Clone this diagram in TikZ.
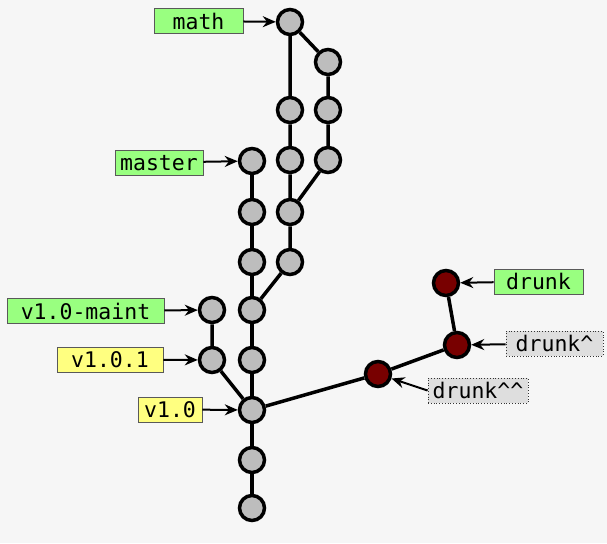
\documentclass[tikz,border=0pt]{standalone}
\usepackage{fontspec}
\setmonofont{DejaVu Sans Mono}
\usetikzlibrary{arrows.meta}
\definecolor{paper}{HTML}{F6F6F6}
\definecolor{stone}{HTML}{BDBDBD}
\definecolor{wine}{HTML}{780000}
\definecolor{leaf}{HTML}{99FF80}
\definecolor{lemon}{HTML}{FFFF80}
\definecolor{mist}{HTML}{DEDEDE}

\begin{document}
\begin{tikzpicture}[
  x=1pt, y=-1pt,
  font=\ttfamily\fontsize{21.5}{24}\selectfont,
  commit/.style={circle, draw=black, line width=3.5pt, fill=stone,
    minimum size=25pt, inner sep=0pt},
  drunkcommit/.style={commit, fill=wine},
  branch/.style={draw=black!65, fill=leaf, line width=0.8pt,
    minimum height=25pt, inner xsep=4pt, inner ysep=0pt, text depth=0pt},
  tag/.style={branch, fill=lemon},
  reflog/.style={branch, fill=mist, dotted, draw=black!80},
  link/.style={line width=3.5pt},
  ptr/.style={-{Stealth[length=13pt,width=11pt]}, line width=2pt}
]
\fill[paper] (0,0) rectangle (607,543);
\useasboundingbox (0,0) rectangle (607,543);

% commits
\node[commit] (m0) at (290,22) {};
\node[commit] (m1) at (290,110) {};
\node[commit] (m2) at (290,160) {};
\node[commit] (m3) at (290,212) {};
\node[commit] (m4) at (290,262) {};
\node[commit] (s0) at (328,62) {};
\node[commit] (s1) at (328,110) {};
\node[commit] (s2) at (328,160) {};
\node[commit] (c0) at (252,161) {};
\node[commit] (c1) at (252,212) {};
\node[commit] (c2) at (252,262) {};
\node[commit] (c3) at (252,310) {};
\node[commit] (c4) at (252,360) {};
\node[commit] (c5) at (252,410) {};
\node[commit] (c6) at (252,460) {};
\node[commit] (c7) at (252,508) {};
\node[commit] (t0) at (212,310) {};
\node[commit] (t1) at (212,360) {};
\node[drunkcommit] (d0) at (378,374) {};
\node[drunkcommit] (d1) at (457,345) {};
\node[drunkcommit] (d2) at (446,283) {};

% history
\draw[link] (m0) -- (m1) -- (m2) -- (m3) -- (m4) -- (c3);
\draw[link] (m0) -- (s0) -- (s1) -- (s2) -- (m3);
\draw[link] (c0) -- (c1) -- (c2) -- (c3) -- (c4) -- (c5) -- (c6) -- (c7);
\draw[link] (t0) -- (t1) -- (c5);
\draw[link] (c5) -- (d0) -- (d1) -- (d2);

% refs
\node[branch, minimum width=89pt] (math) at (198.5,21) {math};
\node[branch, minimum width=88pt] (master) at (159,162.5) {master};
\node[branch, minimum width=157pt] (maint) at (85.5,311) {v1.0-maint};
\node[tag, minimum width=106pt] (v101) at (110,359.5) {v1.0.1};
\node[tag, minimum width=64pt] (v10) at (170,409.5) {v1.0};
\node[branch, minimum width=89pt] (drunk) at (538.5,281.5) {drunk};
\node[reflog, minimum width=97pt] (drunk1) at (554.5,343.5) {drunk\textasciicircum};
\node[reflog, minimum width=100pt] (drunk2) at (478,390.5) {drunk\textasciicircum\textasciicircum};

\draw[ptr] (math) -- (m0);
\draw[ptr] (master) -- (c0);
\draw[ptr] (maint) -- (t0);
\draw[ptr] (v101) -- (t1);
\draw[ptr] (v10) -- (c5);
\draw[ptr] (drunk) -- (d2);
\draw[ptr] (drunk1) -- (d1);
\draw[ptr] (drunk2.west) -- (d0);
\end{tikzpicture}
\end{document}
